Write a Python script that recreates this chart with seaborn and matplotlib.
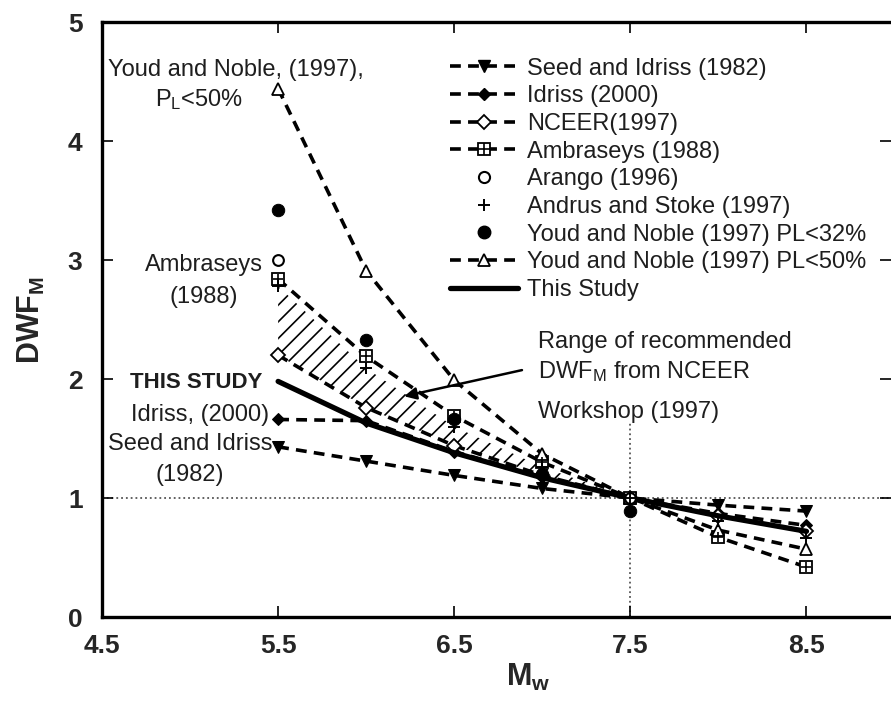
import matplotlib
matplotlib.use("Agg")
import matplotlib.pyplot as plt
from matplotlib.lines import Line2D
import seaborn as sns
import numpy as np
import pandas as pd

# ---------------- data ----------------
M = [5.5, 6.0, 6.5, 7.0, 7.5, 8.0, 8.5]
seed_idriss = [1.43, 1.31, 1.19, 1.08, 1.00, 0.94, 0.89]
idriss = [1.66, 1.65, 1.39, 1.18, 1.00, 0.87, 0.77]
nceer = [2.20, 1.76, 1.44, 1.19, 1.00, 0.85, 0.72]
ambraseys = [2.84, 2.19, 1.69, 1.30, 1.00, 0.67, 0.42]
andrus_stoke = [2.78, 2.09, 1.60, 1.26, 1.00, 0.81, 0.66]
youd50 = [4.44, 2.91, 1.99, 1.37, 1.00, 0.73, 0.57]
this_study = [1.98, 1.63, 1.38, 1.17, 1.00, 0.85, 0.72]

M_arango = [5.5, 7.5]
arango = [3.00, 1.00]
M_youd32 = [5.5, 6.0, 6.5, 7.0, 7.5]
youd32 = [3.42, 2.33, 1.66, 1.20, 0.89]

M_range = [5.5, 6.0, 6.5, 7.0, 7.5]
range_low = [2.20, 1.76, 1.44, 1.19, 1.00]
range_high = [2.78, 2.09, 1.60, 1.26, 1.00]

x_ticks = [4.5, 5.5, 6.5, 7.5, 8.5]
y_ticks = [0, 1, 2, 3, 4, 5]

legend_labels = ["Seed and Idriss (1982)", "Idriss (2000)", "NCEER(1997)",
                 "Ambraseys (1988)", "Arango (1996)", "Andrus and Stoke (1997)",
                 "Youd and Noble (1997) PL<32%", "Youd and Noble (1997) PL<50%",
                 "This Study"]

# ---------------- style ----------------
sns.set_theme(style="white")
plt.rcParams["font.family"] = ["Liberation Sans", "DejaVu Sans"]
plt.rcParams["mathtext.fontset"] = "custom"
plt.rcParams["mathtext.rm"] = "Liberation Sans"
plt.rcParams["mathtext.bf"] = "Liberation Sans:bold"
plt.rcParams["mathtext.it"] = "Liberation Sans:italic"
plt.rcParams["hatch.linewidth"] = 1.2

fig = plt.figure(figsize=(8.91, 7.03), dpi=100)
ax = fig.add_axes([0.1145, 0.1223, 0.8855, 0.8464])

DASH = (0, (3.0, 2.0))
LW = 2.6
K = "black"

# hatched NCEER range
ax.fill_between(M_range, range_low, range_high, facecolor="none",
                edgecolor=K, hatch="//", linewidth=0)

def dline(y, x=M, **kw):
    sns.lineplot(x=x, y=y, ax=ax, color=K, linewidth=LW, linestyle="--",
                 markeredgecolor=K, legend=False, **kw)
    line = ax.lines[-1]
    line.set_linestyle(DASH)
    return line

dline(seed_idriss, marker="v", markersize=8, markerfacecolor=K)
dline(idriss, marker="D", markersize=6, markerfacecolor=K)
dline(nceer, marker="D", markersize=7, markerfacecolor="white", markeredgewidth=1.3)
dline(ambraseys, marker="s", markersize=8, markerfacecolor="white", markeredgewidth=1.3)
dline(youd50, marker="^", markersize=8, markerfacecolor="white", markeredgewidth=1.3)

sns.scatterplot(x=M, y=ambraseys, ax=ax, marker="+", s=55, color=K, linewidth=1.2,
                legend=False, zorder=5)
sns.scatterplot(x=M_arango, y=arango, ax=ax, marker="o", s=60, facecolor="white",
                edgecolor=K, linewidth=1.5, legend=False, zorder=5)
sns.scatterplot(x=M, y=andrus_stoke, ax=ax, marker="+", s=80, color=K, linewidth=1.4,
                legend=False, zorder=5)
sns.scatterplot(x=M_youd32, y=youd32, ax=ax, marker="o", s=80, color=K, edgecolor=K,
                legend=False, zorder=5)

sns.lineplot(x=M, y=this_study, ax=ax, color=K, linewidth=3.8, legend=False)

# reference dotted lines
ax.axhline(1.0, color="#555555", linestyle=":", linewidth=1.3, zorder=0.5)
ax.plot([7.5, 7.5], [0, 1.65], color="#555555", linestyle=":", linewidth=1.3, zorder=0.5)

# axes
ax.set_xlim(4.5, 8.98)
ax.set_ylim(0, 5)
ax.set_xticks(x_ticks)
ax.set_yticks(y_ticks)
ax.set_xticklabels([f"{v}" for v in x_ticks], fontsize=19, fontweight="bold")
ax.set_yticklabels([f"{v}" for v in y_ticks], fontsize=19, fontweight="bold")
ax.tick_params(axis="both", direction="in", length=8, width=1.2,
               top=True, right=True, bottom=True, left=True, color=K)
ax.tick_params(axis="x", pad=12)
ax.tick_params(axis="y", pad=14)
for side in ["left", "bottom", "top"]:
    ax.spines[side].set_linewidth(2.4)
    ax.spines[side].set_color(K)
ax.spines["right"].set_visible(False)

ax.set_xlabel(r"$\mathbf{M_w}$", fontsize=22)
ax.xaxis.set_label_coords(0.54, -0.075)
ax.set_ylabel(r"$\mathbf{DWF_M}$", fontsize=22)
ax.yaxis.set_label_coords(-0.07, 0.5)

# annotations
TC = "#1e1e1e"
FS = 17
ax.text(4.535, 4.60, "Youd and Noble, (1997),", fontsize=FS, color=TC, va="center", ha="left")
ax.text(4.80, 4.35, r"P$_\mathregular{L}$<50%", fontsize=FS, color=TC, va="center", ha="left")
ax.text(5.08, 2.96, "Ambraseys", fontsize=FS, color=TC, va="center", ha="center")
ax.text(5.08, 2.69, "(1988)", fontsize=FS, color=TC, va="center", ha="center")
ax.text(5.41, 1.97, "THIS STUDY", fontsize=16, color=TC, va="center", ha="right", fontweight="bold")
ax.text(5.45, 1.70, "Idriss, (2000)", fontsize=FS, color=TC, va="center", ha="right")
ax.text(5.47, 1.45, "Seed and Idriss", fontsize=FS, color=TC, va="center", ha="right")
ax.text(5.0, 1.19, "(1982)", fontsize=FS, color=TC, va="center", ha="center")
ax.text(6.975, 2.31, "Range of recommended", fontsize=FS, color=TC, va="center", ha="left")
ax.text(6.975, 2.06, r"DWF$_\mathregular{M}$ from NCEER", fontsize=FS, color=TC, va="center", ha="left")
ax.text(6.975, 1.72, "Workshop (1997)", fontsize=FS, color=TC, va="center", ha="left")
ax.annotate("", xy=(6.20, 1.85), xytext=(6.90, 2.08),
            arrowprops=dict(arrowstyle="-|>", color=K, lw=1.8, mutation_scale=18))

# legend
def h(marker=None, ls=DASH, **kw):
    return Line2D([], [], color=K, linestyle=ls, linewidth=LW if ls != "none" else 0,
                  marker=marker, markeredgecolor=K, **kw)

handles = [
    h("v", markersize=8, markerfacecolor=K),
    h("D", markersize=6, markerfacecolor=K),
    h("D", markersize=7, markerfacecolor="white", markeredgewidth=1.3),
    (h("s", markersize=8, markerfacecolor="white", markeredgewidth=1.3),
     h("+", ls="none", markersize=8, markeredgewidth=1.2)),
    h("o", ls="none", markersize=8, markerfacecolor="white", markeredgewidth=1.5),
    h("+", ls="none", markersize=9, markeredgewidth=1.4),
    h("o", ls="none", markersize=9, markerfacecolor=K),
    h("^", markersize=8, markerfacecolor="white", markeredgewidth=1.3),
    Line2D([], [], color=K, linewidth=3.8),
]
leg = ax.legend(handles, legend_labels, loc="upper left", bbox_to_anchor=(0.441, 0.94),
                frameon=False, fontsize=17, handlelength=2.9, handletextpad=0.35,
                labelspacing=0.24, borderpad=0, borderaxespad=0)
for t in leg.get_texts():
    t.set_color(TC)

fig.savefig("out.png", dpi=100)
